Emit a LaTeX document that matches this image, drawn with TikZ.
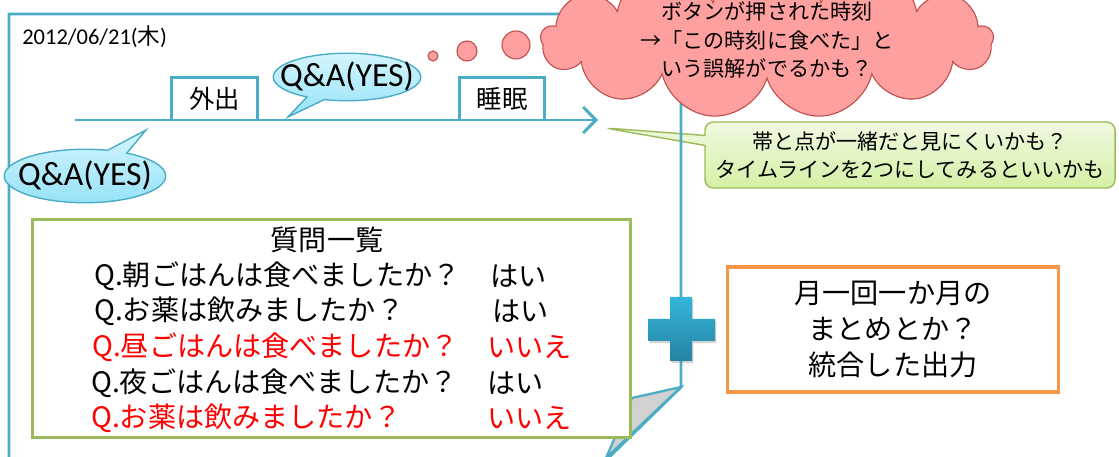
\documentclass[tikz,border=0pt]{standalone}
\usepackage{fontspec}
\setmainfont{Noto Sans CJK JP}
\newfontfamily\calfont{Carlito}
\usetikzlibrary{shapes.symbols,shapes.callouts,shadows,arrows.meta}
\definecolor{pageblue}{RGB}{75,172,198}
\definecolor{bubtop}{RGB}{212,245,253}
\definecolor{bubbot}{RGB}{150,226,248}
\definecolor{cloudfill}{RGB}{255,160,160}
\definecolor{cloudline}{RGB}{192,80,77}
\definecolor{notegreen}{RGB}{155,187,89}
\definecolor{notetop}{RGB}{240,249,225}
\definecolor{notebot}{RGB}{212,240,165}
\definecolor{boxorange}{RGB}{247,150,70}
\definecolor{plustop}{RGB}{52,182,218}
\definecolor{plusbot}{RGB}{38,130,162}

\begin{document}
\begin{tikzpicture}[x=0.025cm,y=-0.025cm,
    blueline/.style={draw=pageblue,line width=2.1pt},
    qabubble/.style={ellipse callout,draw=pageblue,line width=1pt,top color=bubtop,bottom color=bubbot,
      font=\calfont\fontsize{24}{26}\selectfont},
    thought/.style={draw=cloudline,line width=0.8pt,fill=cloudfill},
    event/.style={minimum width=2.125cm,minimum height=1.05cm,anchor=south,font=\fontsize{18}{20}\selectfont},
    qline/.style={anchor=west,inner sep=0pt,font=\fontsize{20}{22}\selectfont},
    ngline/.style={qline,text=red}]
  \useasboundingbox (0,0) rectangle (1119,457);

  \coordinate (notetip) at (605,128);
  \node (note) at (910,155) [rectangle callout,callout absolute pointer={(notetip)},rounded corners=6pt,
    draw=notegreen,line width=1pt,top color=notetop,bottom color=notebot,
    minimum width=10.25cm,minimum height=1.65cm,align=center,font=\fontsize{15}{20}\selectfont]
    {帯と点が一緒だと見にくいかも？\\タイムラインを2つにしてみるといいかも};

  \draw[blueline] (9,470) -- (9,14) -- (681,14) -- (681,387) -- (600,466);
  \filldraw[blueline,fill=black!18,line width=1.6pt] (681,387) -- (632,398) -- (606,458) -- cycle;

  \node (date) at (22,37) [anchor=west,inner sep=0pt,font=\calfont\fontsize{16}{18}\selectfont]
    {2012/06/21(\normalfont 木\calfont )};

  \coordinate (tstart) at (75,120);
  \coordinate (tend) at (598,120);
  \draw[blueline,-{Straight Barb[length=3.2mm,width=6.5mm,line width=2.1pt]}] (tstart) -- (tend);

  \node (out) at (214.5,120) [event] {外出};
  \node (sleep) at (502,120) [event] {睡眠};
  \draw[blueline] (out.south west) -- (out.north west) -- (out.north east) -- (out.south east);
  \draw[blueline] (sleep.south west) -- (sleep.north west) -- (sleep.north east) -- (sleep.south east);

  \coordinate (qatipa) at (288,117);
  \coordinate (qatipb) at (146,130);
  \node (qaa) at (347,77) [qabubble,callout absolute pointer={(qatipa)},inner xsep=-10.5pt,inner ysep=1.5pt] {Q\&A(YES)};
  \node (qab) at (85,176) [qabubble,callout absolute pointer={(qatipb)},inner xsep=-7pt,inner ysep=3pt] {Q\&A(YES)};

  \node (idea) at (767,40) [cloud,cloud puffs=13,cloud ignores aspect,draw=cloudline,line width=0.8pt,fill=cloudfill,
    minimum width=11.3cm,minimum height=2.2cm,inner ysep=-4pt,align=center,font=\fontsize{15}{20}\selectfont]
    {ボタンが押された時刻\\→「この時刻に食べた」と\\いう誤解がでるかも？};
  \draw[thought] (433,56) circle (5);
  \draw[thought] (467,51) circle (10);
  \draw[thought] (516,45) circle (14);

  \node (list) at (331.5,328.5) [draw=notegreen,line width=2.1pt,fill=white,minimum width=14.925cm,minimum height=5.425cm] {};
  \node (qtitle) at (327,240) [inner sep=0pt,font=\fontsize{20}{22}\selectfont] {質問一覧};
  \node (q1) at (94,276) [qline] {Q.朝ごはんは食べましたか？};
  \node (a1) at (490,276) [qline] {はい};
  \node (q2) at (94,311) [qline] {Q.お薬は飲みましたか？};
  \node (a2) at (492,311) [qline] {はい};
  \node (q3) at (92,347) [ngline] {Q.昼ごはんは食べましたか？};
  \node (a3) at (487,347) [ngline] {いいえ};
  \node (q4) at (91,383) [qline] {Q.夜ごはんは食べましたか？};
  \node (a4) at (487,383) [qline] {はい};
  \node (q5) at (91,418) [ngline] {Q.お薬は飲みましたか？};
  \node (a5) at (487,418) [ngline] {いいえ};

  \path[top color=plustop,bottom color=plusbot,drop shadow={opacity=0.35,shadow xshift=1pt,shadow yshift=-1.5pt}]
    (670,297) -- (692,297) -- (692,319) -- (715,319) -- (715,341) -- (692,341) -- (692,361)
    -- (670,361) -- (670,341) -- (648,341) -- (648,319) -- (670,319) -- cycle;

  \node (summary) at (893,329.5) [draw=boxorange,line width=2.5pt,minimum width=8.275cm,minimum height=3.125cm,
    align=center,font=\fontsize{20}{25.6}\selectfont]
    {月一回一か月の\\まとめとか？\\統合した出力};
\end{tikzpicture}
\end{document}
